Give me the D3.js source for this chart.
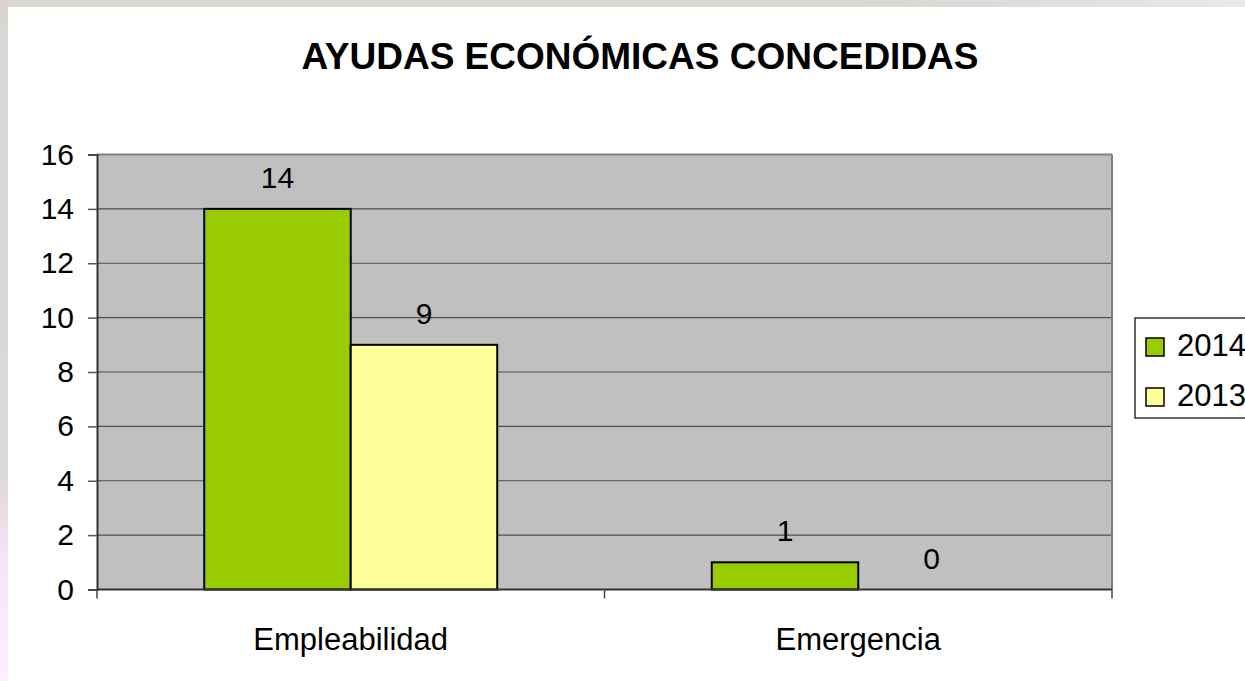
<!DOCTYPE html>
<html>
<head>
<meta charset="utf-8">
<script src="https://cdn.jsdelivr.net/npm/d3@7"></script>
<style>
  body { margin: 0; background: #fff; }
  svg { display: block; font-family: Arial, "Liberation Sans", sans-serif; }
</style>
</head>
<body>
<div id="chart"></div>
<script>
// chart data
var categories = ["Empleabilidad", "Emergencia"];
var seriesNames = ["2014", "2013"];
var values2014 = [14, 1];
var values2013 = [9, 0];
var yTicks = [0, 2, 4, 6, 8, 10, 12, 14, 16];
var colors = ["#99cc00", "#ffff99"];

var W = 1245, H = 681;

var svg = d3.select("#chart")
  .append("svg")
  .attr("width", W)
  .attr("height", H);

// slide frame
var defs = svg.append("defs");
var gTop = defs.append("linearGradient").attr("id", "topGrad");
gTop.append("stop").attr("offset", "0%").attr("stop-color", "#d9d5d1");
gTop.append("stop").attr("offset", "75%").attr("stop-color", "#dcd8d4");
gTop.append("stop").attr("offset", "100%").attr("stop-color", "#ebe8e8");
var gLeft = defs.append("linearGradient").attr("id", "leftGrad")
  .attr("x1", 0).attr("y1", 0).attr("x2", 0).attr("y2", 1);
gLeft.append("stop").attr("offset", "0%").attr("stop-color", "#d9d5d1");
gLeft.append("stop").attr("offset", "70%").attr("stop-color", "#ddd8da");
gLeft.append("stop").attr("offset", "82%").attr("stop-color", "#f3e6f3");
gLeft.append("stop").attr("offset", "100%").attr("stop-color", "#fbf0fb");

svg.append("rect").attr("x", 0).attr("y", 0).attr("width", W).attr("height", 7)
  .attr("fill", "url(#topGrad)");
svg.append("rect").attr("x", 0).attr("y", 0).attr("width", 8).attr("height", H)
  .attr("fill", "url(#leftGrad)");

var plotL = 97, plotR = 1112, plotT = 154.5, plotB = 589.5;

var yScale = d3.scaleLinear().domain([0, 16]).range([plotB, plotT]);
var xScale = d3.scaleBand().domain(categories).range([plotL, plotR])
  .paddingInner(0.4227).paddingOuter(0.2113);
var xSub = d3.scaleBand().domain(seriesNames).range([0, xScale.bandwidth()]);

// plot background
svg.append("rect")
  .attr("x", plotL).attr("y", plotT)
  .attr("width", plotR - plotL).attr("height", plotB - plotT)
  .attr("fill", "#c0c0c0");

// gridlines
svg.append("g").selectAll("line")
  .data(yTicks.filter(function(d) { return d > 0 && d < 16; }))
  .enter().append("line")
  .attr("x1", plotL).attr("x2", plotR)
  .attr("y1", function(d) { return yScale(d); })
  .attr("y2", function(d) { return yScale(d); })
  .attr("stroke", "#4d4d4d")
  .attr("stroke-width", 1.2);

// top and right borders
svg.append("line").attr("x1", plotL).attr("x2", plotR)
  .attr("y1", plotT).attr("y2", plotT)
  .attr("stroke", "#808080").attr("stroke-width", 2);
svg.append("line").attr("x1", plotR).attr("x2", plotR)
  .attr("y1", plotT).attr("y2", plotB)
  .attr("stroke", "#808080").attr("stroke-width", 2);

// bars
var rows = categories.map(function(c, i) {
  return { cat: c, vals: [values2014[i], values2013[i]] };
});

var groups = svg.selectAll("g.cat")
  .data(rows)
  .enter().append("g")
  .attr("class", "cat")
  .attr("transform", function(d) { return "translate(" + xScale(d.cat) + ",0)"; });

groups.selectAll("rect")
  .data(function(d) { return d.vals.map(function(v, j) { return { s: seriesNames[j], v: v, j: j }; }); })
  .enter().append("rect")
  .filter(function(d) { return d.v > 0; })
  .attr("x", function(d) { return xSub(d.s); })
  .attr("y", function(d) { return yScale(d.v); })
  .attr("width", xSub.bandwidth())
  .attr("height", function(d) { return yScale(0) - yScale(d.v); })
  .attr("fill", function(d) { return colors[d.j]; })
  .attr("stroke", "#000")
  .attr("stroke-width", 2);

groups.selectAll("text")
  .data(function(d) { return d.vals.map(function(v, j) { return { s: seriesNames[j], v: v }; }); })
  .enter().append("text")
  .attr("x", function(d) { return xSub(d.s) + xSub.bandwidth() / 2; })
  .attr("y", function(d) { return yScale(d.v) - 21; })
  .attr("text-anchor", "middle")
  .style("font-size", "30px")
  .text(function(d) { return d.v; });

// y axis
var yAxis = d3.axisLeft(yScale).tickValues(yTicks).tickSize(9).tickPadding(14);
var yG = svg.append("g").attr("transform", "translate(" + plotL + ",0)").call(yAxis);
yG.select(".domain").attr("stroke", "#333").attr("stroke-width", 2);
yG.selectAll(".tick line").attr("stroke", "#555").attr("stroke-width", 1.5);
yG.selectAll("text").style("font-size", "30px").attr("fill", "#000")
  .attr("font-family", "Arial, 'Liberation Sans', sans-serif");

// x axis
var xAxis = d3.axisBottom(xScale).tickSize(0).tickPadding(0).tickFormat("");
var xG = svg.append("g").attr("transform", "translate(0," + plotB + ")").call(xAxis);
xG.select(".domain").attr("d", "M" + plotL + ",0H" + plotR).attr("stroke", "#333").attr("stroke-width", 2);
var sep = [plotL, (plotL + plotR) / 2, plotR];
svg.append("g").selectAll("line").data(sep).enter().append("line")
  .attr("x1", function(d) { return d; }).attr("x2", function(d) { return d; })
  .attr("y1", plotB).attr("y2", plotB + 9)
  .attr("stroke", "#444").attr("stroke-width", 1.5);

svg.append("g").selectAll("text").data(categories).enter().append("text")
  .attr("x", function(d) { return xScale(d) + xScale.bandwidth() / 2; })
  .attr("y", 650)
  .attr("text-anchor", "middle")
  .style("font-size", "31px")
  .text(function(d) { return d; });

// title
svg.append("text")
  .attr("x", 640).attr("y", 69)
  .attr("text-anchor", "middle")
  .style("font-size", "37px")
  .style("font-weight", "bold")
  .text("AYUDAS ECONÓMICAS CONCEDIDAS");

// legend
var legend = svg.append("g").attr("transform", "translate(1135,318)");
legend.append("rect")
  .attr("x", 0).attr("y", 0).attr("width", 130).attr("height", 100)
  .attr("fill", "#fff").attr("stroke", "#000").attr("stroke-width", 1.2);
var items = legend.selectAll("g.item").data(seriesNames).enter().append("g")
  .attr("class", "item")
  .attr("transform", function(d, i) { return "translate(11," + (20 + i * 50) + ")"; });
items.append("rect")
  .attr("width", 18).attr("height", 18)
  .attr("fill", function(d, i) { return colors[i]; })
  .attr("stroke", "#000").attr("stroke-width", 1.5);
items.append("text")
  .attr("x", 31).attr("y", 18)
  .style("font-size", "31px")
  .text(function(d) { return d; });
</script>
</body>
</html>
